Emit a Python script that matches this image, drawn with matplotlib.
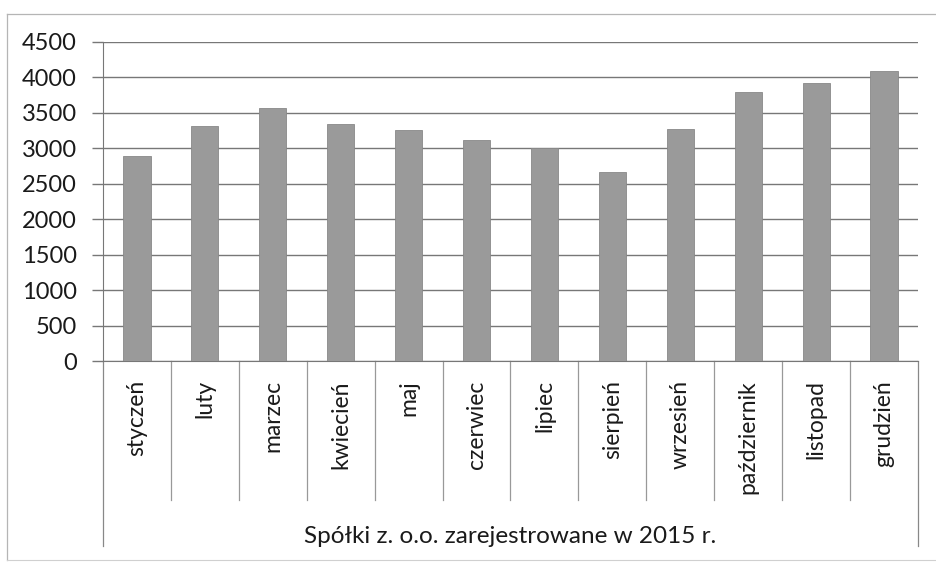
import matplotlib
matplotlib.use("Agg")
import matplotlib.pyplot as plt
import matplotlib.transforms as mtransforms
from matplotlib.lines import Line2D

months = ["styczeń", "luty", "marzec", "kwiecień", "maj", "czerwiec",
          "lipiec", "sierpień", "wrzesień", "październik", "listopad", "grudzień"]
values = [2890, 3310, 3570, 3350, 3265, 3120, 3010, 2665, 3275, 3790, 3925, 4090]
yticks = [0, 500, 1000, 1500, 2000, 2500, 3000, 3500, 4000, 4500]
title = "Spółki z. o.o. zarejestrowane w 2015 r."

plt.rcParams['font.family'] = ['Lato', 'DejaVu Sans']

W, H = 937, 562
fig = plt.figure(figsize=(W / 100, H / 100), dpi=100)
ax = fig.add_axes([103/W, 1-361/H, (918-103)/W, (361-42)/H])

x = list(range(len(months)))
ax.bar(x, values, width=0.4, color="#9a9a9a", edgecolor="#888888", linewidth=0.6, zorder=3)

ax.set_xlim(-0.5, len(months) - 0.5)
ax.set_ylim(0, 4500)
ax.set_yticks(yticks)
ax.set_yticklabels([str(v) for v in yticks], fontsize=17, color="#1a1a1a")
ax.yaxis.grid(True, color="#777777", linewidth=1.0, zorder=0)
ax.tick_params(axis='y', direction='out', length=8, width=1, color="#777777", pad=11)
ax.set_xticks([])

for s in ["top", "right"]:
    ax.spines[s].set_visible(False)
ax.spines["left"].set_color("#777777")
ax.spines["bottom"].set_color("#777777")

trans = mtransforms.blended_transform_factory(ax.transData, ax.transAxes)
# category separators
for i in range(1, len(months)):
    ax.plot([i - 0.5, i - 0.5], [0, -0.436], transform=trans, color="#999999",
            linewidth=0.9, clip_on=False)
# outer frame of category area
for xe in (-0.5, len(months) - 0.5):
    ax.plot([xe, xe], [0, -0.58], transform=trans, color="#888888",
            linewidth=0.9, clip_on=False)

for i, m in enumerate(months):
    ax.text(i, -0.06, m, transform=trans, rotation=90, ha="center", va="top",
            fontsize=16.5, color="#1a1a1a")

ax.text(0.5, -0.55, title, transform=ax.transAxes, ha="center", va="center",
        fontsize=17.5, color="#1a1a1a")

# chart border (left, top, bottom; right edge is cut off in the scan)
bc = "#b5b5b5"
fig.add_artist(Line2D([7/W, 7/W], [1-14/H, 1-560/H], transform=fig.transFigure, color=bc, linewidth=0.9))
fig.add_artist(Line2D([7/W, 1.0], [1-14/H, 1-14/H], transform=fig.transFigure, color=bc, linewidth=0.9))
fig.add_artist(Line2D([7/W, 1.0], [1-560/H, 1-560/H], transform=fig.transFigure, color="#d0d0d0", linewidth=0.8))

fig.savefig("out.png", dpi=100, facecolor="white")
